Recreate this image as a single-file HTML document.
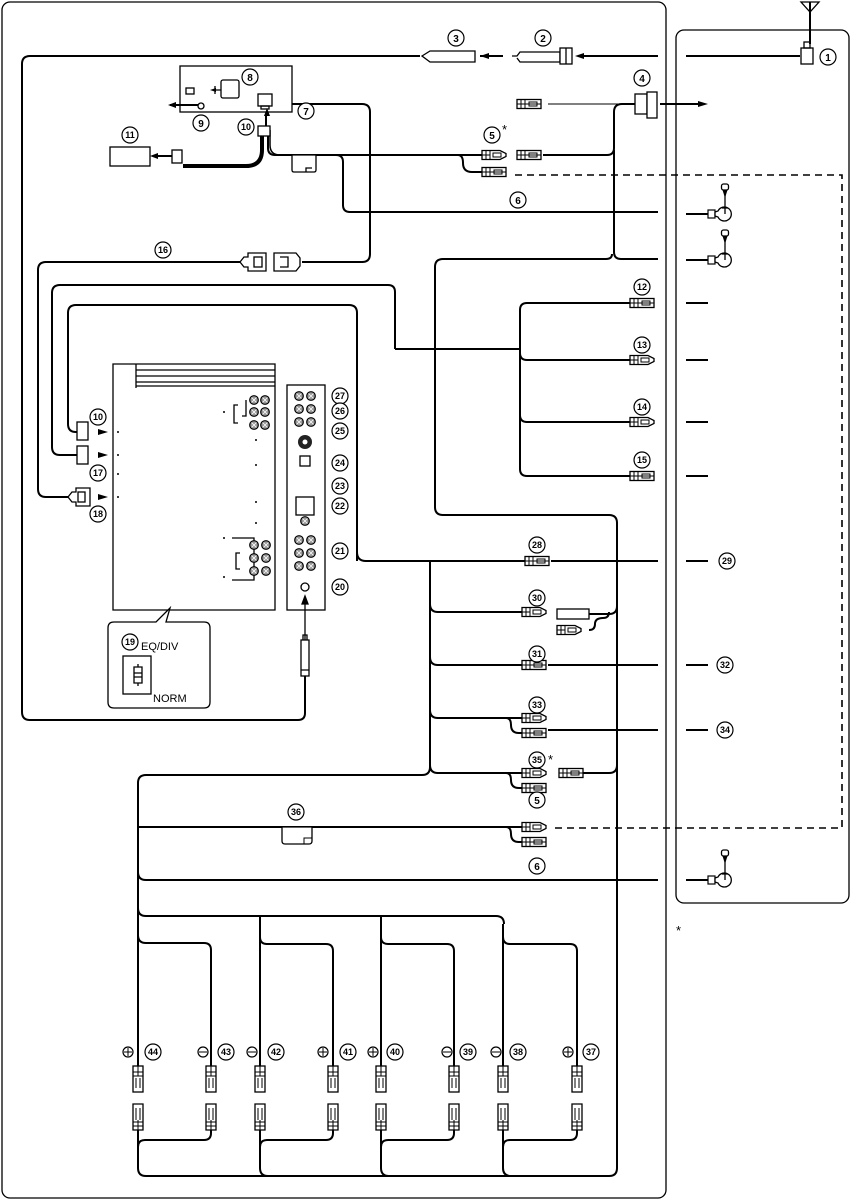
<!DOCTYPE html>
<html><head><meta charset="utf-8"><style>
html,body{margin:0;padding:0;background:#fff}
svg{display:block}
text{font-family:"Liberation Sans",sans-serif;fill:#000}
.n text{font-size:10px;font-weight:bold;text-anchor:middle}
.n text.s{font-size:9px}
</style></head><body>
<svg width="851" height="1201" viewBox="0 0 851 1201" xmlns="http://www.w3.org/2000/svg">
<defs>
<g id="c"><rect x="0" y="-4.5" width="24" height="9" fill="#fff" stroke="#000" stroke-width="1.3"/><path d="M4-4.5v9M8-4.5v9M0 0h24M12-2h8v4h-8z" stroke="#000" stroke-width="1" fill="none"/></g>
<g id="f"><path d="M0-4.5h18l6 3v3l-6 3H0z" fill="#fff" stroke="#000" stroke-width="1.3"/><path d="M4-4.5v9M8-4.5v9M0 0h8M11-2h8v4h-8z" stroke="#000" stroke-width="1" fill="none"/></g>
<g id="g"><path d="M-39 0h22" stroke="#000" stroke-width="2"/><rect x="-17" y="-4" width="7" height="8" fill="#fff" stroke="#000" stroke-width="1.2"/><path d="M-10-2l3-1a7 7 0 1 1 0 6l-3-1z" fill="#fff" stroke="#000" stroke-width="1.3"/><path d="M0-20v20M-3-6h6" stroke="#000" stroke-width="1.3" fill="none"/><rect x="-3.5" y="-30" width="7" height="6" rx="2" fill="#fff" stroke="#000" stroke-width="1.3"/><path d="M-2.5-24h5l-2.5 8z" fill="#000"/></g>
<g id="vu"><rect x="-5" y="0" width="10" height="26" fill="#fff" stroke="#000" stroke-width="1.3"/><path d="M-5 6h10M-5 10h10M-2 12v10M2 12v10M0 0v10" stroke="#000" stroke-width="1" fill="none"/></g>
<g id="vd"><path d="M-5 0h10v26h-10z" fill="#fff" stroke="#000" stroke-width="1.3"/><path d="M-5 18h10M-5 22h10M-2 4v12M2 4v12M0 16v10" stroke="#000" stroke-width="1" fill="none"/></g>
<g id="jk"><circle r="4.3" fill="#999" stroke="#000" stroke-width="1.2"/><path d="M-2.5-2.5l5 5M2.5-2.5l-5 5" stroke="#fff" stroke-width="0.8"/></g>
</defs>
<g fill="none" stroke="#000" stroke-width="1.3">
<rect x="2" y="2" width="664" height="1196" rx="8"/>
<rect x="676" y="30" width="173" height="873" rx="8"/>
</g>
<g fill="none" stroke="#000" stroke-width="2" stroke-linejoin="round">
<path d="M420 56H30q-8 0-8 8V712q0 8 8 8H298q7 0 7-7V675"/>
<path d="M658 56H582"/><path d="M503 56H480"/>
<path d="M292 104H362q8 0 8 8V254q0 8-8 8H302"/>
<path d="M240 262H46q-8 0-8 8V489q0 8 8 8H68"/>
<path d="M395 349V292q0-7-7-7H60q-8 0-8 8V447q0 8 8 8H77"/>
<path d="M395 349H520"/>
<path d="M357 561V313q0-8-8-8H76q-8 0-8 8V424q0 8 8 8H77"/>
<path d="M357 552q0 9 9 9H525"/><path d="M551 561H658"/>
<path d="M630 303H527q-7 0-7 7V469q0 7 7 7H630"/>
<path d="M520 353q0 7 7 7H630"/><path d="M520 415q0 7 7 7H630"/>
<path d="M268 133V148q0 7 7 7H482"/><path d="M458 155q5 0 5 8q0 9 9 9h10"/>
<path d="M336 155q7 0 7 7V205q0 7 7 7H658"/>
<path d="M543 155H607q7 0 7-7V112q0-8 8-8H635"/>
<path d="M614 150V252q0 7 7 7H658"/>
<path d="M612 254q0 5-6 5H443q-8 0-8 8V507q0 8 8 8H609q8 0 8 8V1168q0 8-8 8H146q-8 0-8-8V1130"/>
<path d="M138 1066V783q0-8 8-8H422q8 0 8-8V569"/>
<path d="M430 561V604q0 8 8 8H522"/>
<path d="M430 657q0 8 8 8H522"/><path d="M548 665H658"/>
<path d="M430 710q0 8 8 8H522"/><path d="M506 718q5 0 5 7q0 8 8 8h3"/><path d="M548 730H658"/>
<path d="M430 765q0 8 8 8H522"/><path d="M506 773q5 0 5 7q0 8 8 8h3"/>
<path d="M583 773H609q8 0 8-8"/>
<path d="M589 614H609q8 0 8-8"/><path d="M589 630q6 0 6-6q0-6 8-6q6 0 6-6"/>
<path d="M138 827H522"/><path d="M506 827q5 0 5 7q0 8 8 8h3"/>
<path d="M138 872q0 8 8 8H658"/>
<path d="M138 908q0 8 8 8H496q8 0 8 8"/>
<path d="M138 935q0 8 8 8H204q7 0 7 7V1066"/>
<path d="M260 916V1066"/><path d="M260 937q0 7 7 7H326q7 0 7 7V1066"/>
<path d="M381 916V1066"/><path d="M381 937q0 7 7 7H447q7 0 7 7V1066"/>
<path d="M503 924V1066"/><path d="M503 937q0 7 7 7H570q7 0 7 7V1066"/>
<path d="M211 1130v3q0 7-7 7H145q-7 0-7 7"/>
<path d="M260 1130V1168q0 8 8 8"/><path d="M333 1130v3q0 7-7 7H267q-7 0-7 7"/>
<path d="M381 1130V1168q0 8 8 8"/><path d="M454 1130v3q0 7-7 7H388q-7 0-7 7"/>
<path d="M503 1130V1168q0 8 8 8"/><path d="M577 1130v3q0 7-7 7H510q-7 0-7 7"/>
<path d="M686 56H800"/><path d="M660 104H700"/>
<path d="M686 303H708M686 360H708M686 422H708M686 476H708M686 561H708M686 665H708M686 730H708"/>
<path d="M810 2V44"/>
</g>
<path d="M262 130V150q0 16-16 16H183" fill="none" stroke="#000" stroke-width="4"/>
<path d="M270 130V145q0 10 10 10" fill="none" stroke="#000" stroke-width="1.5"/>
<g fill="none" stroke="#000" stroke-width="1.3">
<path d="M515 175H842V828H550" stroke-dasharray="7 5" stroke-width="1.6"/>
<line x1="548" y1="104" x2="635" y2="104" stroke-width="1"/>
<rect x="180" y="66" width="112" height="46" fill="#fff"/>
<rect x="221" y="80" width="18" height="18" rx="2"/><rect x="258" y="94" width="14" height="12"/><rect x="261" y="106" width="8" height="3"/>
<rect x="186" y="88" width="8" height="6"/><path d="M215 86v8M215 90h6"/>
<circle cx="201" cy="106" r="3"/>
<rect x="258" y="126" width="12" height="10" fill="#fff"/>
<rect x="110" y="147" width="40" height="19"/>
<rect x="172" y="150" width="10" height="13" fill="#fff"/>
<path d="M292 155h24v15q0 2-2 2h-20q-2 0-2-2z" fill="#fff"/><path d="M306 172v-4h6"/>
<path d="M422 56l8-5h45v11h-45z" fill="#fff"/>
<path d="M512 56h5l3-4h40v10h-40l-3-4"/><rect x="560" y="48" width="12" height="16" fill="#fff"/><path d="M566 48v16"/>
<rect x="635" y="94" width="12" height="20" fill="#fff"/><rect x="647" y="92" width="10" height="26" fill="#fff"/>
<rect x="801" y="48" width="12" height="16" fill="#fff"/><rect x="804" y="42" width="6" height="6"/>
<path d="M801 2h18l-9 10z"/>
<path d="M240 262l4-5h4v-4h18v18h-18v-4h-4z" fill="#fff"/><rect x="254" y="257" width="8" height="10"/>
<path d="M274 253h22l4 5v8l-4 5h-22z" fill="#fff"/><path d="M280 257h8v10h-8"/>
<rect x="77" y="422" width="11" height="18" fill="#fff"/><rect x="77" y="446" width="11" height="18" fill="#fff"/>
<path d="M68 497l4-5h4v-4h14v18h-14v-4h-4z" fill="#fff"/><rect x="78" y="492" width="7" height="10"/>
<path d="M113 364h162v246h-162z" fill="#fff"/>
<path d="M136 364v24M136 370h139M136 376h139M136 382h139M136 386h139"/>
<path d="M238 405h-4v18h4M246 400v16h-4"/>
<path d="M232 538h22v42h-22M240 553h-4v16h4"/>
<rect x="287" y="385" width="38" height="225" fill="#fff"/>
<rect x="300" y="456" width="10" height="10"/><rect x="296" y="497" width="18" height="18"/>
<circle cx="305" cy="587" r="4"/>
<path d="M305 640v-42M302 604l3-8l3 8z" fill="#000"/>
<rect x="301" y="640" width="8" height="36" fill="#fff"/><path d="M303 640v-5h4v5M301 670h8"/>
<path d="M120 622h36l14-14l-4 14h38q6 0 6 6v74q0 6-6 6h-90q-6 0-6-6v-74q0-6 6-6z" fill="#fff"/>
<rect x="123" y="656" width="28" height="38"/><path d="M134 667h8v16h-8zM134 673h8M134 677h8M138 664v3M138 683v3"/>
</g>
<g fill="#000">
<path d="M108 432l-10-3v6zM108 455l-10-3v6zM108 497l-10-3v6z"/>
<path d="M198 106h-28v-2h28z"/><path d="M168 105l8-3v6z"/>
<path d="M150 156l8-3v6z"/><path d="M158 155h14v2h-14z"/>
<path d="M264 116l3-8l3 8z"/><rect x="265" y="116" width="2" height="10"/>
<path d="M708 104l-10-3v6z"/><path d="M480 56l9-3v6z"/><path d="M575 56l9-3v6z"/>
<path d="M210 90l6-2v4z"/>
<circle cx="118" cy="432" r="1"/><circle cx="118" cy="455" r="1"/><circle cx="118" cy="474" r="1"/><circle cx="118" cy="497" r="1"/>
<circle cx="224" cy="412" r="1"/><circle cx="256" cy="440" r="1"/><circle cx="256" cy="465" r="1"/><circle cx="256" cy="502" r="1"/><circle cx="256" cy="523" r="1"/><circle cx="224" cy="538" r="1"/><circle cx="224" cy="577" r="1"/>
</g>
<g>
<use href="#jk" x="254" y="400"/><use href="#jk" x="265" y="400"/><use href="#jk" x="254" y="412"/><use href="#jk" x="265" y="412"/><use href="#jk" x="254" y="425"/><use href="#jk" x="265" y="425"/>
<use href="#jk" x="254" y="545"/><use href="#jk" x="266" y="545"/><use href="#jk" x="254" y="558"/><use href="#jk" x="266" y="558"/><use href="#jk" x="254" y="571"/><use href="#jk" x="266" y="571"/>
<use href="#jk" x="299" y="396"/><use href="#jk" x="311" y="396"/><use href="#jk" x="299" y="409"/><use href="#jk" x="311" y="409"/><use href="#jk" x="299" y="422"/><use href="#jk" x="311" y="422"/>
<use href="#jk" x="305" y="521"/>
<use href="#jk" x="299" y="540"/><use href="#jk" x="311" y="540"/><use href="#jk" x="299" y="553"/><use href="#jk" x="311" y="553"/><use href="#jk" x="299" y="566"/><use href="#jk" x="311" y="566"/>
<circle cx="305" cy="442" r="7" fill="#222"/><circle cx="305" cy="442" r="2.5" fill="#fff"/>
<use href="#c" x="517" y="104"/><use href="#f" x="482" y="155"/><use href="#c" x="517" y="155"/><use href="#c" x="482" y="172"/>
<use href="#c" x="630" y="303"/><use href="#f" x="630" y="360"/><use href="#f" x="630" y="422"/><use href="#c" x="630" y="476"/>
<use href="#c" x="525" y="561"/><use href="#f" x="522" y="612"/><rect x="557" y="609" width="32" height="10" fill="#fff" stroke="#000" stroke-width="1.3"/><use href="#f" x="557" y="630"/>
<use href="#c" x="522" y="665"/><use href="#f" x="522" y="718"/><use href="#c" x="522" y="733"/>
<use href="#f" x="522" y="773"/><use href="#c" x="522" y="788"/><use href="#c" x="559" y="773"/>
<use href="#f" x="522" y="827"/><use href="#c" x="522" y="842"/>
<path d="M282 827h30v14q0 3-3 3h-24q-3 0-3-3z" fill="#fff" stroke="#000" stroke-width="1.3"/><path d="M304 844v-6h8" fill="none" stroke="#000"/>
<use href="#g" x="725" y="214"/><use href="#g" x="725" y="260"/><use href="#g" x="725" y="880"/>
<use href="#vu" x="138" y="1066"/><use href="#vu" x="211" y="1066"/><use href="#vu" x="260" y="1066"/><use href="#vu" x="333" y="1066"/><use href="#vu" x="381" y="1066"/><use href="#vu" x="454" y="1066"/><use href="#vu" x="503" y="1066"/><use href="#vu" x="577" y="1066"/>
<use href="#vd" x="138" y="1104"/><use href="#vd" x="211" y="1104"/><use href="#vd" x="260" y="1104"/><use href="#vd" x="333" y="1104"/><use href="#vd" x="381" y="1104"/><use href="#vd" x="454" y="1104"/><use href="#vd" x="503" y="1104"/><use href="#vd" x="577" y="1104"/>
</g>
<g fill="#fff" stroke="#000" stroke-width="1.2">
<circle cx="828" cy="57" r="8"/><circle cx="543" cy="38" r="8"/><circle cx="456" cy="38" r="8"/><circle cx="642" cy="78" r="8"/><circle cx="492" cy="135" r="8"/><circle cx="518" cy="200" r="8"/><circle cx="306" cy="111" r="8"/><circle cx="250" cy="77" r="8"/><circle cx="201" cy="123" r="8"/><circle cx="246" cy="127" r="8"/><circle cx="130" cy="135" r="8"/><circle cx="163" cy="250" r="8"/>
<circle cx="98" cy="417" r="8"/><circle cx="98" cy="473" r="8"/><circle cx="98" cy="514" r="8"/>
<circle cx="340" cy="396" r="8"/><circle cx="340" cy="411" r="8"/><circle cx="340" cy="431" r="8"/><circle cx="340" cy="463" r="8"/><circle cx="340" cy="486" r="8"/><circle cx="340" cy="506" r="8"/><circle cx="340" cy="551" r="8"/><circle cx="340" cy="587" r="8"/><circle cx="130" cy="642" r="8"/>
<circle cx="642" cy="287" r="8"/><circle cx="642" cy="345" r="8"/><circle cx="642" cy="407" r="8"/><circle cx="642" cy="460" r="8"/>
<circle cx="537" cy="545" r="8"/><circle cx="727" cy="561" r="8"/><circle cx="537" cy="598" r="8"/><circle cx="537" cy="654" r="8"/><circle cx="725" cy="665" r="8"/><circle cx="537" cy="705" r="8"/><circle cx="725" cy="730" r="8"/><circle cx="537" cy="760" r="8"/><circle cx="296" cy="812" r="8"/><circle cx="537" cy="800" r="8"/><circle cx="537" cy="866" r="8"/>
<circle cx="153" cy="1052" r="8"/><circle cx="226" cy="1052" r="8"/><circle cx="276" cy="1052" r="8"/><circle cx="348" cy="1052" r="8"/><circle cx="395" cy="1052" r="8"/><circle cx="468" cy="1052" r="8"/><circle cx="518" cy="1052" r="8"/><circle cx="591" cy="1052" r="8"/>
<circle cx="128" cy="1052" r="5"/><circle cx="203" cy="1052" r="5"/><circle cx="252" cy="1052" r="5"/><circle cx="323" cy="1052" r="5"/><circle cx="373" cy="1052" r="5"/><circle cx="447" cy="1052" r="5"/><circle cx="496" cy="1052" r="5"/><circle cx="568" cy="1052" r="5"/>
</g>
<g stroke="#000" stroke-width="1"><path d="M124 1052h8M128 1048v8M199 1052h8M248 1052h8M319 1052h8M323 1048v8M369 1052h8M373 1048v8M443 1052h8M492 1052h8M564 1052h8M568 1048v8"/></g>
<g class="n">
<text x="828" y="61">1</text><text x="543" y="42">2</text><text x="456" y="42">3</text><text x="642" y="82">4</text><text x="492" y="139">5</text><text x="518" y="204">6</text><text x="306" y="115">7</text><text x="250" y="81">8</text><text x="201" y="127">9</text><text class="s" x="246" y="130">10</text><text class="s" x="130" y="138">11</text><text class="s" x="163" y="253">16</text>
<text class="s" x="98" y="420">10</text><text class="s" x="98" y="476">17</text><text class="s" x="98" y="517">18</text>
<text class="s" x="340" y="399">27</text><text class="s" x="340" y="414">26</text><text class="s" x="340" y="434">25</text><text class="s" x="340" y="466">24</text><text class="s" x="340" y="489">23</text><text class="s" x="340" y="509">22</text><text class="s" x="340" y="554">21</text><text class="s" x="340" y="590">20</text><text class="s" x="130" y="645">19</text>
<text class="s" x="642" y="290">12</text><text class="s" x="642" y="348">13</text><text class="s" x="642" y="410">14</text><text class="s" x="642" y="463">15</text>
<text class="s" x="537" y="548">28</text><text class="s" x="727" y="564">29</text><text class="s" x="537" y="601">30</text><text class="s" x="537" y="657">31</text><text class="s" x="725" y="668">32</text><text class="s" x="537" y="708">33</text><text class="s" x="725" y="733">34</text><text class="s" x="537" y="763">35</text><text class="s" x="296" y="815">36</text><text x="537" y="804">5</text><text x="537" y="870">6</text>
<text class="s" x="153" y="1055">44</text><text class="s" x="226" y="1055">43</text><text class="s" x="276" y="1055">42</text><text class="s" x="348" y="1055">41</text><text class="s" x="395" y="1055">40</text><text class="s" x="468" y="1055">39</text><text class="s" x="518" y="1055">38</text><text class="s" x="591" y="1055">37</text>
</g>
<g style="font-size:11px">
<text x="141" y="650">EQ/DIV</text><text x="153" y="702">NORM</text>
<text x="502" y="134" style="font-size:13px">*</text><text x="548" y="764" style="font-size:13px">*</text><text x="676" y="935" style="font-size:13px">*</text>
</g>
</svg>
</body></html>
